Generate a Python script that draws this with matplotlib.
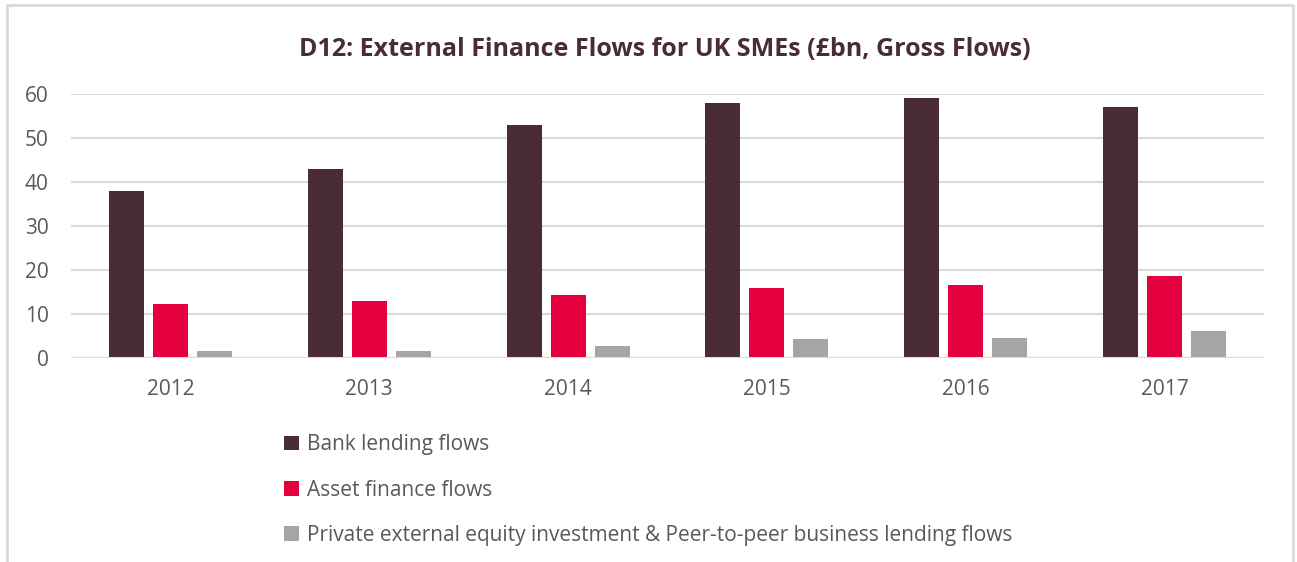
import matplotlib

matplotlib.use("Agg")

import matplotlib.pyplot as plt
import numpy as np
from matplotlib.lines import Line2D
from matplotlib.patches import Patch

years = ["2012", "2013", "2014", "2015", "2016", "2017"]
bank_lending = [38, 43, 53, 58, 59, 57]
asset_finance = [12.2, 13.0, 14.3, 15.9, 16.7, 18.6]
equity_p2p = [1.5, 1.65, 2.7, 4.3, 4.6, 6.2]

series_labels = [
    "Bank lending flows",
    "Asset finance flows",
    "Private external equity investment & Peer-to-peer business lending flows",
]
colors = ["#4A2C37", "#E4003F", "#A5A5A5"]

plt.rcParams["font.family"] = ["Open Sans", "DejaVu Sans"]

fig = plt.figure(figsize=(12.97, 5.62), dpi=100)
ax = fig.add_axes([71 / 1297, 1 - 358 / 562, (1264 - 71) / 1297, (358 - 94) / 562])

x = np.arange(len(years))
width = 0.176
step = 0.221
for i, (values, color) in enumerate(zip([bank_lending, asset_finance, equity_p2p], colors)):
    ax.bar(x + (i - 1) * step, values, width=width, color=color, zorder=3)

ax.set_xlim(-0.5, len(years) - 0.5)
ax.set_ylim(0, 60)
ax.set_yticks(range(0, 61, 10))
ax.set_xticks(x)
ax.set_xticklabels(years)
ax.yaxis.grid(True, color="#D9D9D9", linewidth=1.5, zorder=0)
for side in ["top", "right", "left", "bottom"]:
    ax.spines[side].set_visible(False)
ax.axhline(0, color="#D9D9D9", linewidth=1.5, zorder=4)
ax.tick_params(axis="both", length=0, labelsize=15, colors="#595959")
ax.tick_params(axis="y", pad=16)
ax.tick_params(axis="x", pad=15)

fig.text(665 / 1297, 1 - 50 / 562, "D12: External Finance Flows for UK SMEs (£bn, Gross Flows)",
         ha="center", va="center", fontsize=18, fontweight="bold", color="#4A2C37")

handles = [Patch(facecolor=c, edgecolor="none") for c in colors]
leg = fig.legend(handles, series_labels, loc="upper left", bbox_to_anchor=(276 / 1297, 1 - 426 / 562),
                 frameon=False, fontsize=15, labelspacing=1.16, handlelength=0.7, handleheight=0.7,
                 handletextpad=0.4, borderaxespad=0)
for t in leg.get_texts():
    t.set_color("#595959")

# chart frame (open at the bottom where the source was cropped)
frame_color = "#D9D9D9"
fx0, fx1, fy = 7 / 1297, 1293 / 1297, 1 - 5 / 562
fig.add_artist(Line2D([fx0, fx0, fx1, fx1], [0, fy, fy, 0], transform=fig.transFigure,
                      color=frame_color, linewidth=2))

fig.savefig("out.png", dpi=100)
